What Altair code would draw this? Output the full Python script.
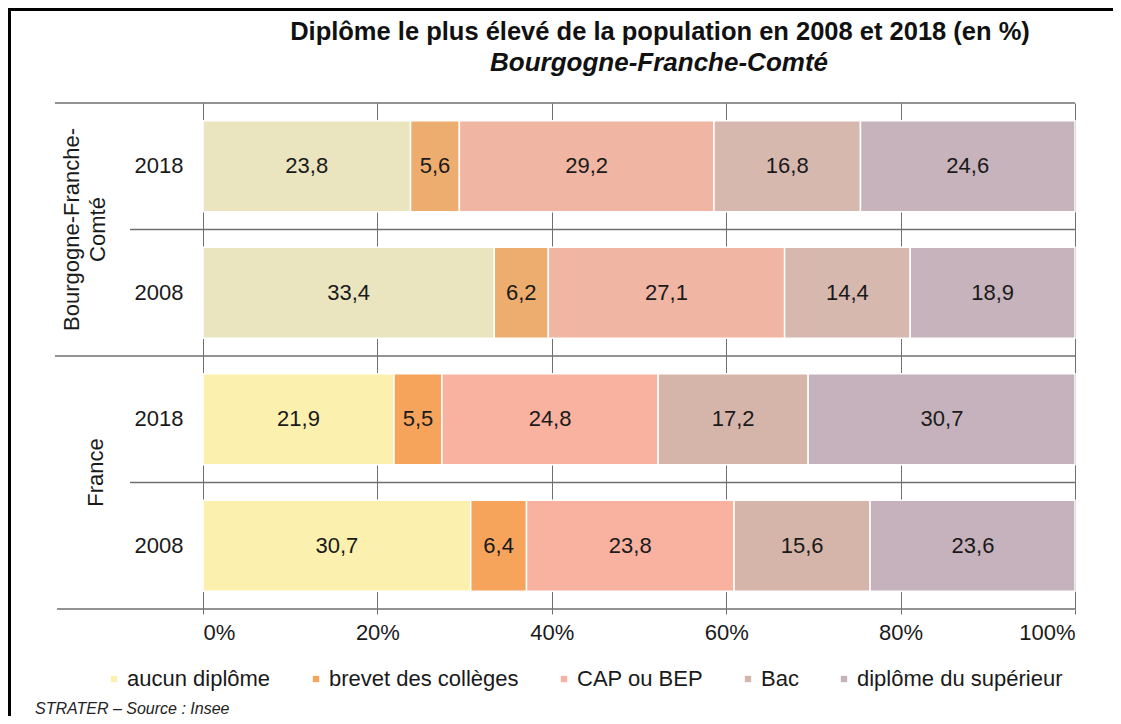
import altair as alt
import pandas as pd

regions = ["Bourgogne-Franche-Comté", "Bourgogne-Franche-Comté", "France", "France"]
years = ["2018", "2008", "2018", "2008"]
categories = ["aucun diplôme", "brevet des collèges", "CAP ou BEP", "Bac", "diplôme du supérieur"]
aucun = [23.8, 33.4, 21.9, 30.7]
brevet = [5.6, 6.2, 5.5, 6.4]
cap_bep = [29.2, 27.1, 24.8, 23.8]
bac = [16.8, 14.4, 17.2, 15.6]
superieur = [24.6, 18.9, 30.7, 23.6]

colors_bfc = ["#EAE5BF", "#EDAD6E", "#F0B5A3", "#D6B8AF", "#C7B3BB"]
colors_fr = ["#FCF0AF", "#F6A45C", "#F9B1A0", "#D5B4A9", "#C5B2BC"]

title_txt = "Diplôme le plus élevé de la population en 2008 et 2018 (en %)"
subtitle_txt = "Bourgogne-Franche-Comté"
source_txt = "STRATER – Source :  Insee"
region_labels = ["Bourgogne-Franche-\nComté", "France"]

FONT = "Liberation Sans"
W, H = 872, 506
STEP = H / 4.0
FS = 22

series = [aucun, brevet, cap_bep, bac, superieur]
rows_order = [f"{r} {y}" for r, y in zip(regions, years)]
records = []
for ci, (cat, vals) in enumerate(zip(categories, series)):
    for i, v in enumerate(vals):
        pref = "F|" if regions[i] == "France" else "B|"
        records.append({"row": rows_order[i], "year": years[i], "categorie": cat,
                        "ordre": ci, "valeur": v, "cle": pref + cat})
df = pd.DataFrame(records)

color_domain = ["B|" + c for c in categories] + ["F|" + c for c in categories]
color_range = colors_bfc + colors_fr

y_scaled = alt.Y("row:N", sort=rows_order, axis=None,
                 scale=alt.Scale(paddingInner=0, paddingOuter=0))
y_plain = alt.Y("row:N", sort=rows_order, axis=None)

base = alt.Chart(df).transform_stack(
    stack="valeur", groupby=["row"], sort=[alt.SortField("ordre", order="ascending")],
    as_=["x0", "x1"]
).transform_calculate(
    mid="(datum.x0 + datum.x1) / 2",
    lab="replace(format(datum.valeur, '.1f'), '.', ',')"
)

bars = base.mark_bar(size=91, stroke="white", strokeWidth=1.5).encode(
    x=alt.X("x0:Q", scale=alt.Scale(domain=[0, 100], nice=False, clamp=True),
            axis=alt.Axis(values=[0, 20, 40, 60, 80, 100], labelExpr="datum.value + '%'",
                          grid=True, gridColor="#707070", gridWidth=1, domain=False,
                          tickColor="#707070", tickSize=5, labelFontSize=FS,
                          labelColor="#1a1a1a", labelPadding=8, title=None, labelFont=FONT)),
    x2="x1:Q",
    y=y_scaled,
    color=alt.Color("cle:N", scale=alt.Scale(domain=color_domain, range=color_range),
                    legend=alt.Legend(values=["F|" + c for c in categories],
                                      labelExpr="split(datum.label, '|')[1]",
                                      orient="none", legendX=-100, legendY=565,
                                      direction="horizontal", title=None,
                                      symbolType="square", symbolSize=40,
                                      symbolStrokeWidth=0, labelFontSize=FS,
                                      labelFont=FONT, labelColor="#1a1a1a",
                                      labelLimit=0,
                                      columnPadding=34, labelOffset=2)),
)

labels = base.mark_text(fontSize=FS, color="#1a1a1a", font=FONT).encode(
    x="mid:Q", y=y_plain, text="lab:N"
)

rule_color = "#6f6f6f"
long_df = pd.DataFrame({"row": [rows_order[0], rows_order[2]]})
short_df = pd.DataFrame({"row": [rows_order[1], rows_order[3]]})
bottom_df = pd.DataFrame({"row": [rows_order[3]]})

rule_long = alt.Chart(long_df).mark_rule(color=rule_color, strokeWidth=1.5, yOffset=-STEP / 2).encode(
    y=y_plain, x=alt.value(-148), x2=alt.value(W))
rule_short = alt.Chart(short_df).mark_rule(color=rule_color, strokeWidth=1.5, yOffset=-STEP / 2).encode(
    y=y_plain, x=alt.value(-73), x2=alt.value(W))
rule_bottom = alt.Chart(bottom_df).mark_rule(color=rule_color, strokeWidth=1.5, yOffset=STEP / 2).encode(
    y=y_plain, x=alt.value(-146), x2=alt.value(W))

year_df = pd.DataFrame({"row": rows_order, "year": years})
year_text = alt.Chart(year_df).mark_text(fontSize=FS, color="#1a1a1a", font=FONT).encode(
    y=y_plain, x=alt.value(-44), text="year:N")

bfc_df = pd.DataFrame({"row": [rows_order[0]], "lab": [region_labels[0]]})
bfc_text = alt.Chart(bfc_df).mark_text(fontSize=FS, color="#1a1a1a", font=FONT, angle=270,
                                       lineBreak="\n", lineHeight=26, baseline="middle",
                                       yOffset=STEP / 2).encode(
    y=y_plain, x=alt.value(-131), text="lab:N")
fr_df = pd.DataFrame({"row": [rows_order[2]], "lab": [region_labels[1]]})
fr_text = alt.Chart(fr_df).mark_text(fontSize=FS, color="#1a1a1a", font=FONT, angle=270,
                                     baseline="middle", yOffset=STEP / 2 - 10).encode(
    y=y_plain, x=alt.value(-107), text="lab:N")

title_mark = alt.Chart(pd.DataFrame({"t": [title_txt]})).mark_text(
    fontSize=25.5, fontWeight="bold", font=FONT, color="#111").encode(
    text="t:N", x=alt.value(457), y=alt.value(-71))
subtitle_mark = alt.Chart(pd.DataFrame({"t": [subtitle_txt]})).mark_text(
    fontSize=26, fontWeight="bold", fontStyle="italic", font=FONT, color="#111").encode(
    text="t:N", x=alt.value(456), y=alt.value(-40))
source_mark = alt.Chart(pd.DataFrame({"t": [source_txt]})).mark_text(
    fontSize=16, fontStyle="italic", font=FONT, color="#222", align="left").encode(
    text="t:N", x=alt.value(-168), y=alt.value(606))

frame_left = alt.Chart(pd.DataFrame({"t": [0]})).mark_rule(color="black", strokeWidth=3).encode(
    x=alt.value(-193.5), y=alt.value(-93), y2=alt.value(H + 115))
frame_top = alt.Chart(pd.DataFrame({"t": [0]})).mark_rule(color="black", strokeWidth=3).encode(
    x=alt.value(-195), x2=alt.value(W + 45), y=alt.value(-93.5))

chart = alt.layer(
    bars, labels, rule_long, rule_short, rule_bottom, year_text, bfc_text, fr_text,
    title_mark, subtitle_mark, source_mark, frame_left, frame_top
).properties(
    width=W, height=H,
    padding={"left": 195, "top": 95, "right": 38, "bottom": 107},
    autosize=alt.AutoSizeParams(type="none"),
    background="white",
).configure_view(stroke=None)

chart.save("out.html", embed_options={"renderer": "svg", "actions": False})
